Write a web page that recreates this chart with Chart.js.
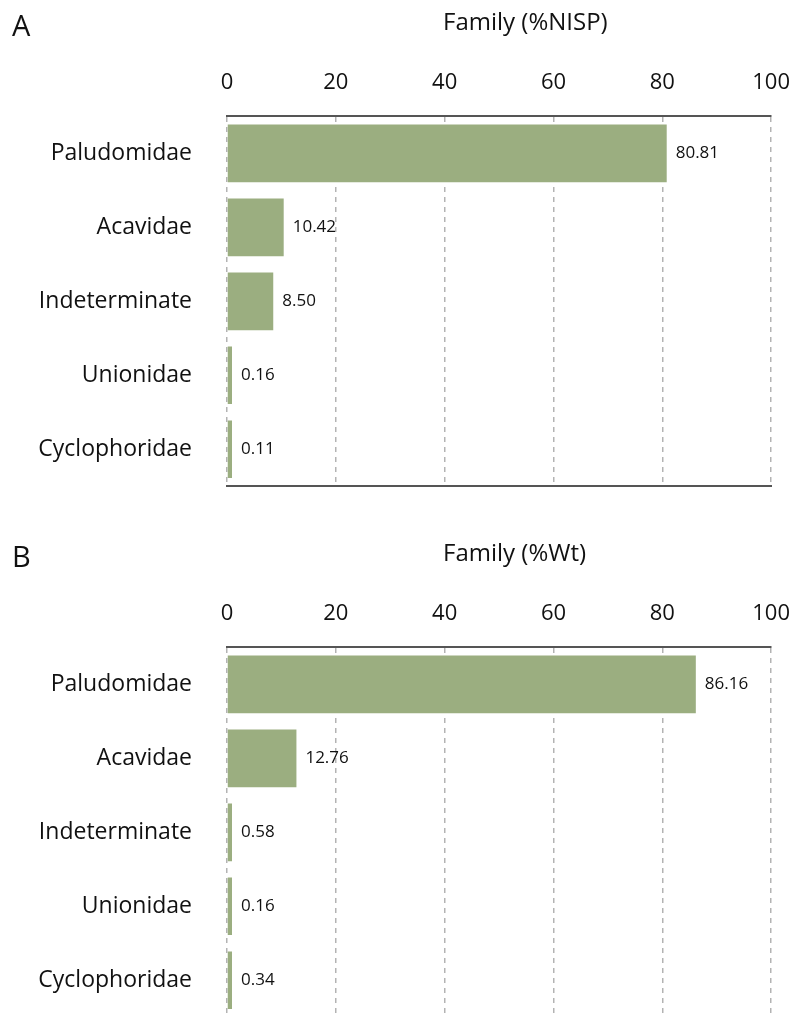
<!DOCTYPE html>
<html>
<head>
  <title>Family %NISP and %Wt</title>
  <script src="https://cdn.jsdelivr.net/npm/chart.js"></script>
  <style>
    body { margin: 0; background: #fff; width: 790px; height: 1016px; overflow: hidden; position: relative; font-family: "Open Sans", sans-serif; color: #111; }
    canvas { position: absolute; left: 0; }
    .letter { position: absolute; left: 12px; font-size: 29px; line-height: 1; }
    .title { position: absolute; left: 443px; font-size: 24px; line-height: 1; }
  </style>
</head>
<body>
  <canvas id="chartA" width="810" height="527" style="top:0"></canvas>
  <canvas id="chartB" width="810" height="527" style="top:531px"></canvas>
  <div class="letter" style="top:10px">A</div>
  <div class="title" style="top:9px">Family (%NISP)</div>
  <div class="letter" style="top:541px">B</div>
  <div class="title" style="top:540px">Family (%Wt)</div>

  <script>
    const families = ["Paludomidae", "Acavidae", "Indeterminate", "Unionidae", "Cyclophoridae"];
    const nispPercent = [80.81, 10.42, 8.50, 0.16, 0.11];
    const weightPercent = [86.16, 12.76, 0.58, 0.16, 0.34];
    const tickValues = [0, 20, 40, 60, 80, 100];

    const FONT = '"Open Sans", sans-serif';

    // number printed just right of each bar
    const valueLabels = {
      id: 'valueLabels',
      afterDatasetsDraw(chart) {
        const ctx = chart.ctx;
        const values = chart.data.datasets[0].data;
        ctx.save();
        ctx.font = '17px ' + FONT;
        ctx.fillStyle = '#111';
        ctx.textBaseline = 'middle';
        chart.getDatasetMeta(0).data.forEach((bar, i) => {
          ctx.fillText(values[i].toFixed(2), bar.x + 9, bar.y);
        });
        ctx.restore();
      }
    };

    function makeChart(id, values) {
      return new Chart(document.getElementById(id), {
        type: 'bar',
        data: {
          labels: families,
          datasets: [{
            data: values,
            backgroundColor: '#9bae80',
            barPercentage: 0.78,
            categoryPercentage: 1,
            minBarLength: 5
          }]
        },
        options: {
          indexAxis: 'y',
          responsive: false,
          animation: false,
          layout: { padding: { top: 50, right: 0, bottom: 14, left: 0 } },
          plugins: { legend: { display: false }, tooltip: { enabled: false } },
          scales: {
            x: {
              position: 'top',
              min: 0,
              max: 100,
              afterBuildTicks: s => { s.ticks = tickValues.map(v => ({ value: v })); },
              grid: { color: '#b3b3b3', lineWidth: 1.5, drawTicks: false },
              border: { display: true, color: '#555', width: 2, dash: [5, 5] },
              ticks: { font: { family: FONT, size: 22 }, color: '#111', padding: 20, maxRotation: 0 }
            },
            x2: {
              type: 'linear',
              position: 'bottom',
              min: 0,
              max: 100,
              grid: { display: false, drawTicks: false },
              ticks: { display: false },
              border: { display: true, color: '#555', width: 2 },
              afterFit: s => { s.height = 0; }
            },
            y: {
              grid: { display: false },
              border: { display: false },
              ticks: { font: { family: FONT, size: 23 }, color: '#111', padding: 27 },
              afterFit: s => { s.width = 227; }
            }
          }
        },
        plugins: [valueLabels]
      });
    }

    makeChart('chartA', nispPercent);
    makeChart('chartB', weightPercent);
  </script>
</body>
</html>
